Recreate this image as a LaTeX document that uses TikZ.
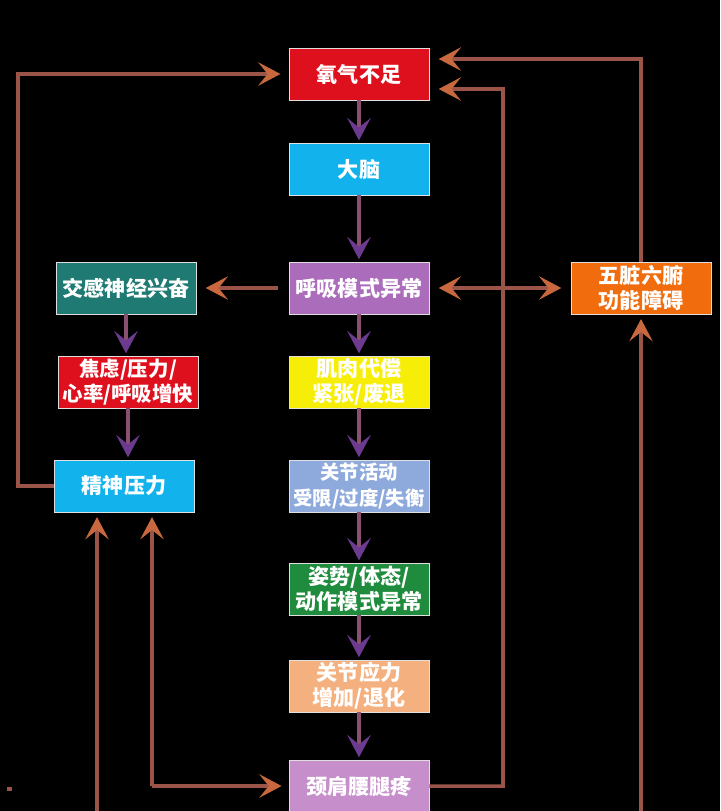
\documentclass[tikz,border=0pt]{standalone}
\usepackage{fontspec}
\newfontfamily\cjk{Noto Sans CJK SC}
\usetikzlibrary{arrows.meta}

\definecolor{boxred}{HTML}{DE101E}
\definecolor{boxcyan}{HTML}{12B2EC}
\definecolor{boxpurple}{HTML}{AC6CBC}
\definecolor{boxteal}{HTML}{1E7A72}
\definecolor{boxorange}{HTML}{F06C0C}
\definecolor{boxyellow}{HTML}{F6EE06}
\definecolor{boxsteel}{HTML}{8EAADC}
\definecolor{boxgreen}{HTML}{1E8C3C}
\definecolor{boxpeach}{HTML}{F4B07E}
\definecolor{boxlilac}{HTML}{C68ECA}
\definecolor{loopline}{HTML}{9A5548}
\definecolor{looptip}{HTML}{C8683E}
\definecolor{flowline}{HTML}{8A5070}
\definecolor{flowtip}{HTML}{6C3A8E}

\begin{document}
\begin{tikzpicture}[x=0.03cm,y=-0.03cm,
    box/.style={draw=white!75!gray, line width=0.6pt, minimum width=4.2cm, minimum height=1.56cm,
	inner sep=0pt, align=center, text=white, font=\cjk\bfseries\fontsize{18}{21.5}\selectfont},
    flow/.style={line width=3pt, draw=flowline, shorten >=2pt,
	-{Stealth[length=19pt,width=20pt,inset=8pt,color=flowtip]}},
    loop/.style={line width=3pt, draw=loopline,
	-{Stealth[length=19pt,width=20pt,inset=8pt,color=looptip]}}]
    \useasboundingbox (0,0) rectangle (720,811);
    \fill[black] (0,0) rectangle (720,811);
	% middle column
	\node[box, fill=boxred] (o2) at (359,74) {氧气不足};
	\node[box, fill=boxcyan] (brain) at (359,169) {大脑};
	\node[box, fill=boxpurple] (breath) at (359,288) {呼吸模式异常};
	\node[box, fill=boxyellow] (muscle) at (359,382) {肌肉代偿\\紧张/废退};
	\node[box, fill=boxsteel, font=\cjk\bfseries\fontsize{16.5}{21.5}\selectfont] (joint) at (359,486) {关节活动\\受限/过度/失衡};
	\node[box, fill=boxgreen] (posture) at (359,589) {姿势/体态/\\动作模式异常};
	\node[box, fill=boxpeach] (stress) at (359,686) {关节应力\\增加/退化};
	\node[box, fill=boxlilac] (pain) at (359,786) {颈肩腰腿疼};
	% left column
	\node[box, fill=boxteal] (symp) at (126,288) {交感神经兴奋};
	\node[box, fill=boxred, font=\cjk\bfseries\fontsize{17.5}{21.5}\selectfont] (anx) at (128,382) {焦虑/压力/\\心率/呼吸增快};
	\node[box, fill=boxcyan] (mental) at (124,486) {精神压力};
	% right column
	\node[box, fill=boxorange] (organ) at (641,288) {五脏六腑\\功能障碍};
	% main chain
	\foreach \a/\b in {o2/brain,brain/breath,breath/muscle,muscle/joint,joint/posture,posture/stress,stress/pain,symp/anx,anx/mental}
	\draw[flow] (\a.south) -- (\a.south |- \b.north);
	% feedback loops
	\draw[loop, shorten <=9pt, shorten >=8pt] (breath.west) -- (symp.east);
	\draw[loop, {Stealth[length=19pt,width=20pt,inset=8pt,color=looptip]}-{Stealth[length=19pt,width=20pt,inset=8pt,color=looptip]},
	shorten <=8pt, shorten >=8pt] (breath.east) -- (organ.west);
	\coordinate (leftup) at (18,74);
	\draw[loop, shorten >=7pt] (mental.west) -| (leftup) -- (o2.west);
	\draw[loop, shorten >=8pt] (organ.north) |- ([yshift=0.45cm]o2.east);
	\coordinate (rightup) at (503,89);
	\draw[loop, shorten >=8pt] (pain.east) -| (rightup) -- ([yshift=-0.45cm]o2.east);
	\coordinate (lowA) at (97,811);
	\coordinate (lowB) at (152,786);
	\coordinate (lowC) at (641,811);
	\draw[loop, shorten >=4pt] (lowA) -- ([xshift=-0.81cm]mental.south);
	\draw[loop, shorten >=4pt] (lowB) -- ([xshift=0.84cm]mental.south);
	\draw[loop, shorten >=6pt] (lowB) -- (pain.west);
	\draw[loop, shorten >=4pt] (lowC) -- (organ.south);
	\fill[loopline] (7,787) rectangle (12,791);
\end{tikzpicture}
\end{document}
